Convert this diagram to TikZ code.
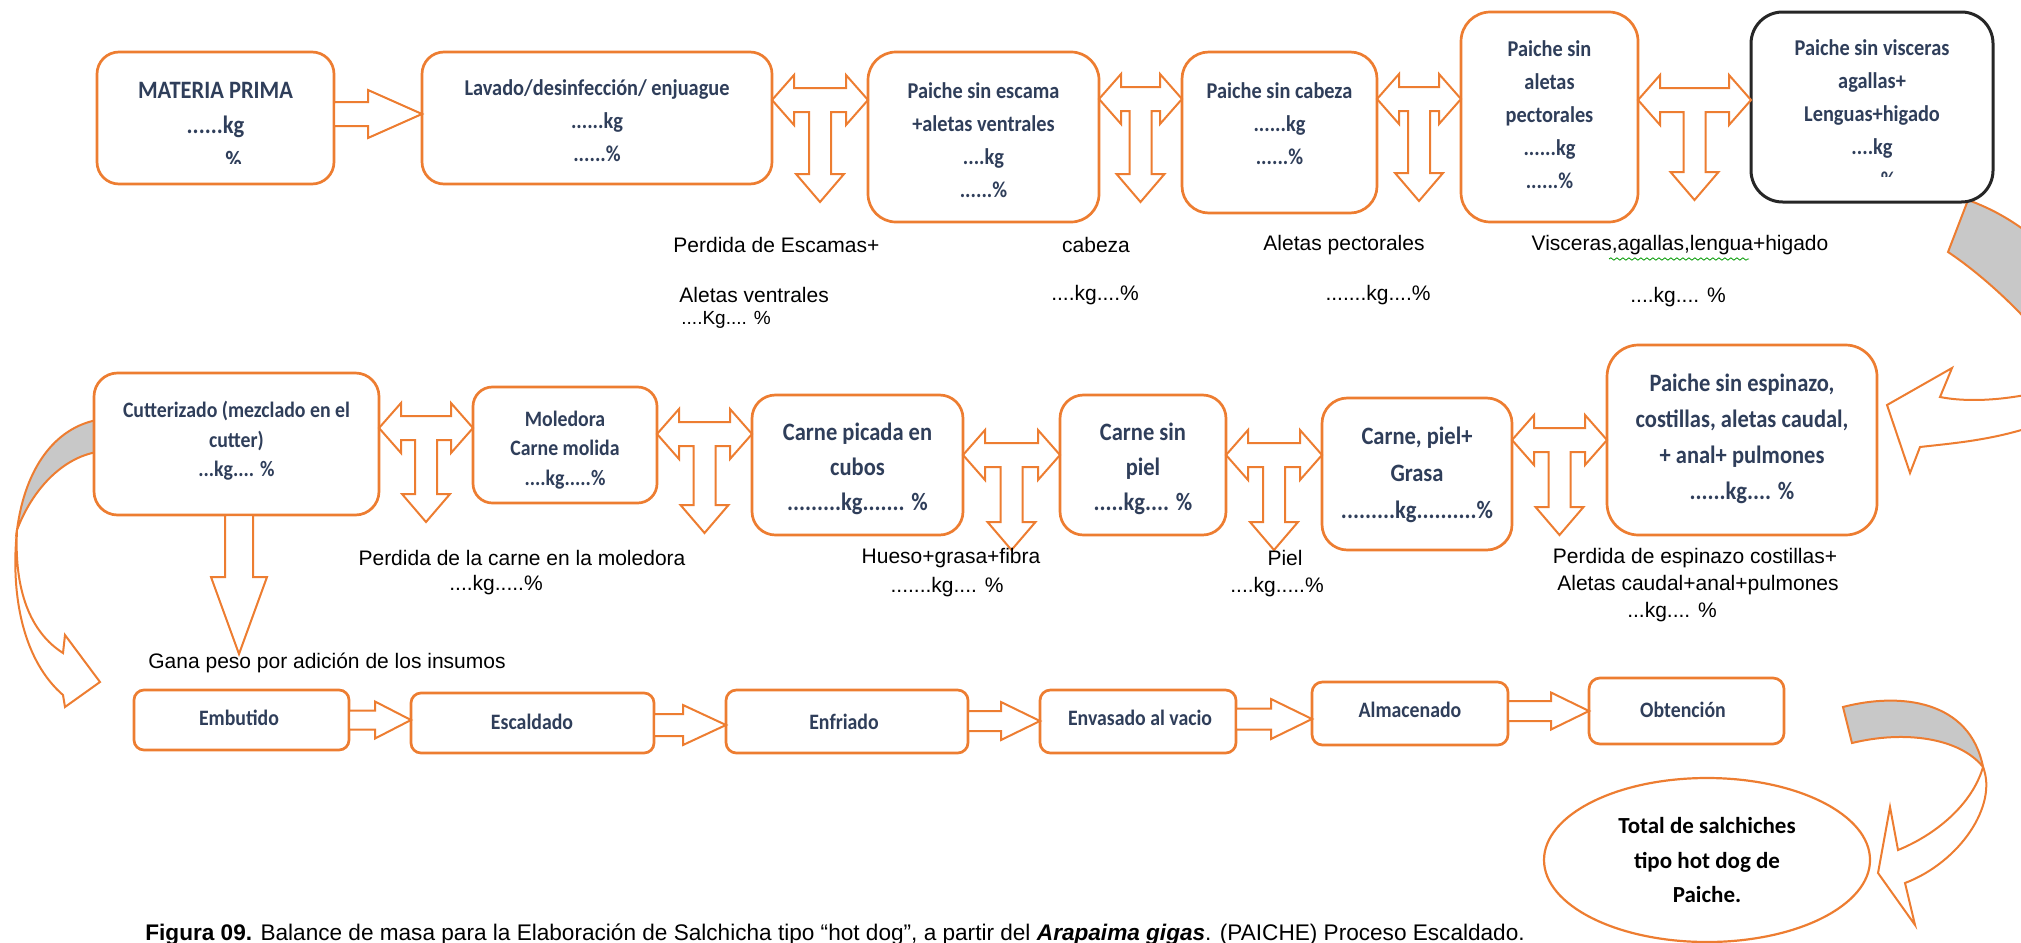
\documentclass[tikz,border=0pt]{standalone}
\usepackage{fontspec}
\setmainfont{Liberation Sans}
\newfontfamily\bxf[FakeStretch=0.9]{Carlito}
\newfontfamily\elf{Carlito}
\usetikzlibrary{calc,shapes.geometric,decorations.pathmorphing}
\definecolor{org}{RGB}{237,125,49}
\definecolor{navy}{RGB}{47,62,90}
\definecolor{bandgray}{RGB}{200,200,200}
\definecolor{dk}{RGB}{38,38,38}
\tikzset{
 pbox/.style={draw=org, line width=1.35pt, fill=white, rectangle, inner sep=0pt, outer sep=0pt},
 vbox/.style={draw=dk, line width=1.5pt, fill=white, rectangle, inner sep=0pt, outer sep=0pt},
 barrow/.style={draw=org, line width=1pt, fill=white, line join=miter},
 band/.style={draw=org, line width=1pt, fill=bandgray},
 tx/.style={text=navy, align=center, inner sep=0pt},
 tMP/.style={tx, font=\bxf\bfseries\fontsize{12.5}{17.5}\selectfont},
 tA/.style={tx, font=\bxf\bfseries\fontsize{11.3}{16.5}\selectfont},
 tS/.style={tx, font=\bxf\bfseries\fontsize{11}{14.8}\selectfont},
 tB/.style={tx, font=\bxf\bfseries\fontsize{12.5}{17.5}\selectfont},
 tC/.style={tx, font=\bxf\bfseries\fontsize{11}{13}\selectfont},
 lbl/.style={inner sep=0pt, font=\fontsize{10.5}{12}\selectfont},
 lbls/.style={inner sep=0pt, font=\fontsize{9.5}{11}\selectfont},
}
% box node: name, x1, y1, x2, y2, radius(pt), style
\newcommand\bx[7]{\node[#7, rounded corners=#6pt, minimum width={(#4-#2)*0.5pt}, minimum height={(#5-#3)*0.5pt}] (#1) at ({(#2+#4)/2},{(#3+#5)/2}) {};}
% right block arrow: from, to, yc, head half height, shaft half height, head length (px)
\newcommand\Rarr[6]{\draw[barrow] let \p1=(#1.east), \p2=(#2.west), \p3=(0,#3) in
 (\x1,{\y3+#5*0.5pt}) -- ({\x2-#6*0.5pt},{\y3+#5*0.5pt}) -- ({\x2-#6*0.5pt},{\y3+#4*0.5pt}) -- (\x2,\y3)
 -- ({\x2-#6*0.5pt},{\y3-#4*0.5pt}) -- ({\x2-#6*0.5pt},{\y3-#5*0.5pt}) -- (\x1,{\y3-#5*0.5pt}) -- cycle;}
% T arrow: from, to, yc, tip y (px)
\newcommand\Tarr[4]{\draw[barrow] let \p1=(#1.east), \p2=(#2.west), \p3=(0,#3), \p4=(0,#4), \n1={(\x1+\x2)/2} in
 (\x1,\y3) -- ++(11pt,12.5pt) -- ++(0,-6.5pt) -- ({\x2-11pt},{\y3+6pt}) -- ++(0,6.5pt) -- (\x2,\y3)
 -- ++(-11pt,-12.5pt) -- ++(0,6.5pt) -- ({\n1+5.5pt},{\y3-6pt}) -- ({\n1+5.5pt},{\y4+14pt})
 -- ({\n1+12pt},{\y4+14pt}) -- (\n1,\y4) -- ({\n1-12pt},{\y4+14pt}) -- ({\n1-5.5pt},{\y4+14pt})
 -- ({\n1-5.5pt},{\y3-6pt}) -- ({\x1+11pt},{\y3-6pt}) -- ++(0,-6.5pt) -- cycle;}
\begin{document}
\begin{tikzpicture}[x=0.5pt,y=-0.5pt]
\useasboundingbox (0,0) rectangle (2021,942);
% curved ribbon arrows
\begin{scope}
\clip (0,0) rectangle (2021,942);
\draw[band] (1968,200) .. controls (1995,210) and (2015,222) .. (2040,242) -- (2040,335) .. controls (2010,300) and (1975,270) .. (1948,252) -- cycle;
\draw[barrow] (2040,392) .. controls (2000,401) and (1965,402) .. (1940,397) -- (1952,368) -- (1887,405) -- (1910,473) -- (1920,447) .. controls (1955,443) and (1995,440) .. (2040,424) -- cycle;
\draw[band] (97,420) .. controls (55,428) and (25,468) .. (17,530) .. controls (32,490) and (62,458) .. (97,452) -- cycle;
\draw[barrow] (17,530) .. controls (14,590) and (30,632) .. (63,653) -- (65,635) -- (100,682) -- (65,707) -- (63,695) .. controls (25,662) and (10,600) .. (17,530) -- cycle;
\draw[band] (1843,707) .. controls (1900,692) and (1970,700) .. (1983,767) .. controls (1960,738) and (1905,730) .. (1852,743) -- cycle;
\draw[barrow] (1983,767) .. controls (1998,805) and (1960,862) .. (1905,883) -- (1915,925) -- (1878,873) -- (1890,807) -- (1898,850) .. controls (1935,835) and (1972,805) .. (1983,767) -- cycle;
\end{scope}
% row 1 boxes
\bx{mp}{97}{52}{334}{184}{11}{pbox}
\bx{lav}{422}{52}{772}{184}{11}{pbox}
\bx{esc}{868}{52}{1099}{222}{14}{pbox}
\bx{cab}{1182}{52}{1377}{213}{13.4}{pbox}
\bx{ale}{1461}{12}{1638}{222}{14.7}{pbox}
\bx{vis}{1751}{12}{1993}{202}{15.8}{vbox}
% row 2 boxes
\bx{cut}{94}{373}{379}{515}{11.8}{pbox}
\bx{mol}{473}{387}{657}{503}{9.7}{pbox}
\bx{pic}{752}{395}{963}{535}{11.7}{pbox}
\bx{sinp}{1060}{395}{1226}{535}{11.7}{pbox}
\bx{gra}{1322}{398}{1512}{550}{12.7}{pbox}
\bx{esp}{1607}{345}{1877}{535}{15.8}{pbox}
% row 3 boxes
\bx{emb}{134}{690}{349}{750}{5}{pbox}
\bx{escd}{411}{693}{654}{753}{5}{pbox}
\bx{enf}{726}{690}{968}{753}{5.2}{pbox}
\bx{env}{1040}{690}{1236}{753}{5.2}{pbox}
\bx{alm}{1312}{682}{1508}{745}{5.2}{pbox}
\bx{obt}{1589}{678}{1784}{744}{5.5}{pbox}
% ellipse
\node[ellipse, draw=org, line width=1.1pt, fill=white, minimum width=163pt, minimum height=82pt, inner sep=0pt, align=center, font=\elf\bfseries\fontsize{11.5}{17}\selectfont] (tot) at (1707,860) {Total de salchiches\\tipo hot dog de\\Paiche.};
% arrows
\Rarr{mp}{lav}{114}{24}{12}{54}
\Tarr{lav}{esc}{100}{202}
\Tarr{esc}{cab}{99}{202}
\Tarr{cab}{ale}{99}{201}
\Tarr{ale}{vis}{100}{200}
\Tarr{cut}{mol}{428}{522}
\Tarr{mol}{pic}{434}{533}
\Tarr{pic}{sinp}{455}{550}
\Tarr{sinp}{gra}{455}{550}
\Tarr{gra}{esp}{440}{535}
\Rarr{emb}{escd}{720}{18.5}{9.5}{36}
\Rarr{escd}{enf}{725}{20}{11}{43}
\Rarr{enf}{env}{721}{19}{10}{39}
\Rarr{env}{alm}{719}{20}{10.5}{41}
\Rarr{alm}{obt}{711}{18.5}{10}{38}
\coordinate (gtip) at (239,654);
\draw[barrow] let \p1=(cut.south), \p2=(gtip) in
 ({\x2-7pt},\y1) -- ({\x2-7pt},{\y2+38.5pt}) -- ({\x2-14pt},{\y2+38.5pt}) -- (\x2,\y2) -- ({\x2+14pt},{\y2+38.5pt}) -- ({\x2+7pt},{\y2+38.5pt}) -- ({\x2+7pt},\y1) -- cycle;
% box texts
\begin{scope}
\clip (97,52) rectangle (334,163);
\node[tMP] (mpT) at (215.5,125) {MATERIA PRIMA\\......kg\\......\%};
\end{scope}
\node[tA] (lavT) at (597,121) {Lavado/desinfección/ enjuague\\......kg\\......\%};
\node[tA] (escT) at (983.5,140.5) {Paiche sin escama\\+aletas ventrales\\....kg\\......\%};
\node[tA] (cabT) at (1279.5,123.5) {Paiche sin cabeza\\......kg\\......\%};
\node[tA] (aleT) at (1549.5,115) {Paiche sin\\aletas\\pectorales\\......kg\\......\%};
\begin{scope}
\clip (1751,12) rectangle (1993,176);
\node[tA] (visT) at (1872,114) {Paiche sin visceras\\agallas+\\Lenguas+higado\\....kg\\......\%};
\end{scope}
\node[tS] (cutT) at (236.5,441) {Cutterizado (mezclado en el\\cutter)\\...kg.... \%};
\node[tS] (molT) at (565,450) {Moledora\\Carne molida\\....kg.....\%};
\node[tB] (picT) at (857.5,469) {Carne picada en\\cubos\\.........kg....... \%};
\node[tB] (sinpT) at (1143,469) {Carne sin\\piel\\.....kg.... \%};
\node[tB, font=\bxf\bfseries\fontsize{12.5}{18.5}\selectfont] (graT) at (1417,474.5) {Carne, piel+\\Grasa\\.........kg..........\%};
\node[tB, font=\bxf\bfseries\fontsize{12.5}{18}\selectfont] (espT) at (1742,439) {Paiche sin espinazo,\\costillas, aletas caudal,\\+ anal+ pulmones\\......kg.... \%};
\node[tC] (embT) at (239,718) {Embutido};
\node[tC] (escdT) at (532,722) {Escaldado};
\node[tC] (enfT) at (844,722) {Enfriado};
\node[tC] (envT) at (1140,718) {Envasado al vacio};
\node[tC] (almT) at (1410,710) {Almacenado};
\node[tC] (obtT) at (1683,710) {Obtención};
% loss labels
\node[lbl, anchor=west] (l1) at (673,245) {Perdida de Escamas+};
\node[lbl, anchor=west] (l2) at (679,295) {Aletas ventrales};
\node[lbls, anchor=west] (l3) at (681,320) {....Kg.... \%};
\node[lbl] (l4) at (1096,245) {cabeza};
\node[lbl] (l5) at (1095,295) {....kg....\%};
\node[lbl] (l6) at (1344,245) {Aletas pectorales};
\node[lbl] (l7) at (1378,295) {.......kg....\%};
\node[lbl] (l8) at (1680,245) {Visceras,agallas,lengua+higado};
\node[lbl] (l9) at (1678,297) {....kg.... \%};
\draw[green!60!black, line width=0.4pt, decorate, decoration={snake, amplitude=0.6pt, segment length=3pt}] (1609,259) -- (1749,259);
\node[lbl] (m1) at (522,558) {Perdida de la carne en la moledora};
\node[lbl] (m2) at (496,585) {....kg.....\%};
\node[lbl] (m3) at (951,558) {Hueso+grasa+fibra};
\node[lbl] (m4) at (947,587) {.......kg.... \%};
\node[lbl] (m5) at (1285,558) {Piel};
\node[lbl] (m6) at (1277,587) {....kg.....\%};
\node[lbl] (m7) at (1695,558) {Perdida de espinazo costillas+};
\node[lbl] (m8) at (1698,585) {Aletas caudal+anal+pulmones};
\node[lbl] (m9) at (1672,612) {...kg.... \%};
\node[lbl, anchor=west] (gana) at (148,663) {Gana peso por adición de los insumos};
\node[inner sep=0pt, anchor=base west, font=\fontsize{11.3}{13}\selectfont] (cap) at (145,940) {\textbf{Figura 09.} Balance de masa para la Elaboración de Salchicha tipo “hot dog”, a partir del \textbf{\textit{Arapaima gigas}}. (PAICHE) Proceso Escaldado.};
\end{tikzpicture}
\end{document}
